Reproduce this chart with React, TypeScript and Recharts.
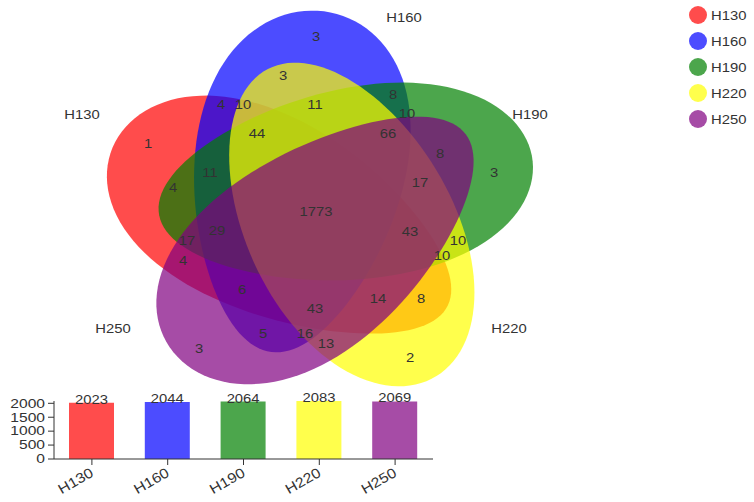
import {
  ScatterChart,
  Scatter,
  XAxis,
  YAxis,
  Legend,
  BarChart,
  Bar,
  Cell,
  LabelList,
} from "recharts";

const SETS = ["H130", "H160", "H190", "H220", "H250"];
const SET_COLORS = ["#ff0000", "#0000ff", "#008000", "#ffff00", "#800080"];
const SET_SIZES = [2023, 2044, 2064, 2083, 2069];

// counts of each venn region
const REGION_COUNTS = [
  3, 3, 4, 10, 11, 8, 10, 66, 44, 1, 8, 3, 11, 4, 17, 1773, 43, 29, 17, 10, 10,
  4, 6, 14, 8, 43, 5, 16, 13, 3, 2,
];
const Y_TICKS = [0, 500, 1000, 1500, 2000];

// layout (pixels) for the venn labels
const REGION_POS = [
  [316, 36], [283, 75], [221, 104], [243, 104], [315, 104], [393, 94],
  [407, 113], [388, 133], [257, 133], [148, 143], [440, 153], [494, 172],
  [210, 172], [173, 187], [420, 182], [316, 211], [410, 231], [217, 230],
  [187, 240], [458, 240], [442, 255], [183, 260], [242, 289], [378, 298],
  [421, 298], [315, 308], [263, 333], [305, 333], [326, 343], [199, 348],
  [410, 357],
];
const SET_LABEL_POS = [
  [82, 114], [404, 17], [530, 114], [509, 328], [113, 328],
];
// small per-shape turn (degrees), shift (px) and bluntness so the shapes sit as in the picture
const AXIS_TWEAK = [-4, 0, 0, -4, -5];
const SHIFT_X = [0, 0, 0, -10, 0];
const SHIFT_Y = [0, 0, 3, 0, -5];
const EGG = [0.2, 0.2, 0.15, 0.05, 0.2];

const W = 754;
const H = 502;
const FONT = "'Liberation Sans', Arial, sans-serif";
const OPACITY = 0.7;
const TEXT_SX = 1.14; // the reference text is a little wide

// five egg shapes rotated 72 degrees apart, stretched horizontally
const CENTER = { x: 321, y: 212 };
const SX = 1.1;
const DIST = 37;
const RX = 172;
const RY = 95;
const setAngle = (k: number) => 125 - 72 * (k - 1);

const eggPath = (egg: number) => {
  const n = 120;
  const pts: string[] = [];
  for (let i = 0; i < n; i++) {
    const t = (2 * Math.PI * i) / n;
    const u = RX * Math.cos(t);
    const v = RY * Math.sin(t) * (1 + egg * Math.cos(t));
    pts.push(`${u.toFixed(2)},${v.toFixed(2)}`);
  }
  return `M${pts.join("L")}Z`;
};

const ellipseData = SETS.map((name, k) => {
  const t = (setAngle(k) * Math.PI) / 180;
  return {
    x: CENTER.x + SX * DIST * Math.cos(t) + SHIFT_X[k],
    y: CENTER.y - DIST * Math.sin(t) + SHIFT_Y[k],
    axis: setAngle(k) - 43 + AXIS_TWEAK[k],
    path: eggPath(EGG[k]),
    color: SET_COLORS[k],
    name,
  };
});

const regionData = REGION_COUNTS.map((v, i) => ({
  x: REGION_POS[i][0],
  y: REGION_POS[i][1],
  value: v,
}));

const setLabelData = SETS.map((s, i) => ({
  x: SET_LABEL_POS[i][0],
  y: SET_LABEL_POS[i][1],
  value: s,
}));

const barData = SETS.map((s, i) => ({ name: s, value: SET_SIZES[i] }));

const EllipseShape = (props: any) => {
  const { cx, cy, payload } = props;
  return (
    <g
      transform={`translate(${cx},${cy}) scale(${SX},1) rotate(${-payload.axis})`}
    >
      <path d={payload.path} fill={payload.color} fillOpacity={OPACITY} />
    </g>
  );
};

const TextShape = (props: any) => {
  const { cx, cy, payload } = props;
  return (
    <text
      transform={`translate(${cx},${cy}) scale(${TEXT_SX},1)`}
      textAnchor="middle"
      dominantBaseline="central"
      fontSize={13}
      fill="#333"
      fontFamily={FONT}
    >
      {payload.value}
    </text>
  );
};

const XTick = (props: any) => {
  const { x, y, payload } = props;
  return (
    <g transform={`translate(${x},${y + 4}) rotate(-30)`}>
      <text
        transform={`scale(${TEXT_SX},1)`}
        textAnchor="end"
        dominantBaseline="central"
        fontSize={14}
        fill="#333"
      >
        {payload.value}
      </text>
    </g>
  );
};

const YTick = (props: any) => {
  const { x, y, payload } = props;
  return (
    <text
      transform={`translate(${x - 1},${y}) scale(1.3,1)`}
      textAnchor="end"
      dominantBaseline="central"
      fontSize={12}
      fill="#333"
    >
      {payload.value}
    </text>
  );
};

const BarValue = (props: any) => {
  const { x, y, width, value } = props;
  return (
    <text
      transform={`translate(${x + width / 2},${y + 1}) scale(${TEXT_SX},1)`}
      textAnchor="middle"
      fontSize={13}
      fill="#333"
    >
      {value}
    </text>
  );
};

const renderLegend = () => (
  <div style={{ fontFamily: FONT }}>
    {SETS.map((s, i) => (
      <div
        key={s}
        style={{ display: "flex", alignItems: "center", height: 26 }}
      >
        <svg width={20} height={20}>
          <circle cx={10} cy={10} r={9} fill={SET_COLORS[i]} fillOpacity={OPACITY} />
        </svg>
        <span
          style={{
            marginLeft: 3,
            fontSize: 13,
            color: "#333",
            display: "inline-block",
            transform: `scaleX(${TEXT_SX})`,
            transformOrigin: "left center",
          }}
        >
          {s}
        </span>
      </div>
    ))}
  </div>
);

export default function App() {
  return (
    <div
      style={{
        position: "absolute",
        left: 0,
        top: 0,
        width: W,
        height: H,
        background: "#fff",
        fontFamily: FONT,
      }}
    >
      <ScatterChart
        width={W}
        height={H}
        margin={{ top: 0, right: 0, bottom: 0, left: 0 }}
      >
        <XAxis type="number" dataKey="x" domain={[0, W]} hide />
        <YAxis type="number" dataKey="y" domain={[0, H]} reversed hide />
        {ellipseData.map((e) => (
          <Scatter
            key={e.name}
            name={e.name}
            data={[e]}
            fill={e.color}
            shape={EllipseShape}
            isAnimationActive={false}
          />
        ))}
        <Scatter
          data={regionData}
          shape={TextShape}
          legendType="none"
          isAnimationActive={false}
        />
        <Scatter
          data={setLabelData}
          shape={TextShape}
          legendType="none"
          isAnimationActive={false}
        />
        <Legend
          layout="vertical"
          align="center"
          verticalAlign="middle"
          content={renderLegend}
          wrapperStyle={{ position: "absolute", top: 2, left: 688, width: 66 }}
        />
      </ScatterChart>

      <div style={{ position: "absolute", left: 0, top: 380 }}>
        <BarChart
          width={440}
          height={122}
          data={barData}
          margin={{ top: 21, right: 7, bottom: 0, left: 0 }}
        >
          <XAxis
            dataKey="name"
            height={43}
            interval={0}
            stroke="#333"
            tick={XTick}
          />
          <YAxis
            width={54}
            domain={[0, "dataMax"]}
            ticks={Y_TICKS}
            interval={0}
            stroke="#333"
            tick={YTick}
          />
          <Bar dataKey="value" barSize={45} isAnimationActive={false}>
            {barData.map((d, i) => (
              <Cell key={d.name} fill={SET_COLORS[i]} fillOpacity={OPACITY} />
            ))}
            <LabelList dataKey="value" content={BarValue} />
          </Bar>
        </BarChart>
      </div>
    </div>
  );
}
